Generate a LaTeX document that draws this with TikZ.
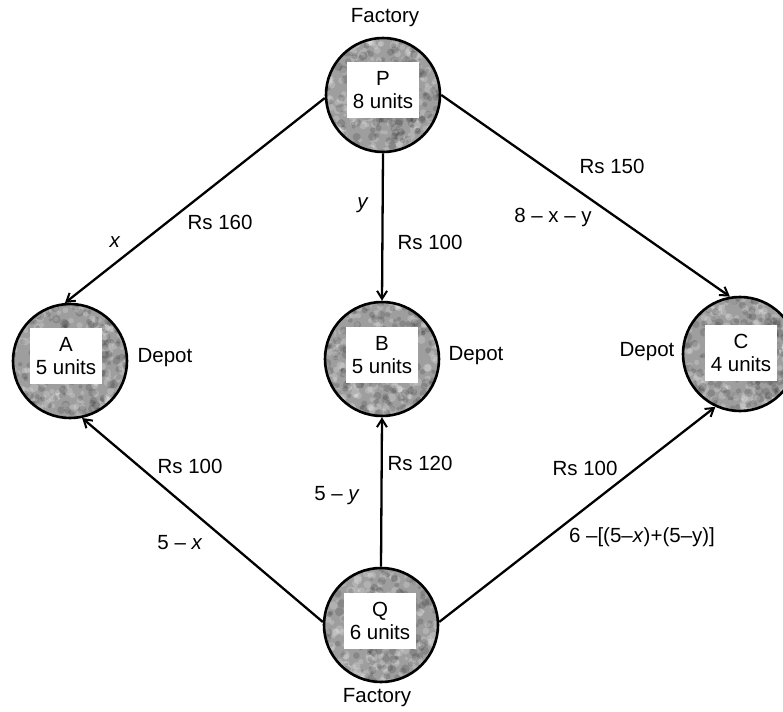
\documentclass[tikz,border=0pt]{standalone}
\usepackage{fontspec}
\setmainfont{Liberation Sans}
\usetikzlibrary{arrows.meta,calc}
\begin{document}
\begin{tikzpicture}[x=1pt,y=-1pt,
  font=\fontsize{20.5}{23.5}\selectfont,
  hub/.style={circle,minimum size=114pt,inner sep=0pt,fill=black!38},
  rim/.style={circle,minimum size=114pt,inner sep=0pt,draw,line width=2.6pt},
  lbox/.style={fill=white,minimum width=72pt,minimum height=56pt,inner sep=2pt,align=center},
  lab/.style={inner sep=0pt},
  conn/.style={line width=2.3pt,-{Straight Barb[length=8pt,width=10pt,line width=2pt]}},
]
\useasboundingbox (0,0) rectangle (783,711);
\pgfmathsetseed{11}
% filled discs
\node[hub] (Pf) at (383,95) {};
\node[hub] (Af) at (70,361) {};
\node[hub] (Bf) at (382,359) {};
\node[hub] (Cf) at (740,354) {};
\node[hub] (Qf) at (381,625) {};
% mottled texture
\foreach \n in {Pf,Af,Bf,Cf,Qf}{
  \begin{scope}
    \clip (\n.center) circle [radius=57];
    \foreach \i in {1,...,220}{
      \fill[white,opacity=.2] ($(\n.center)+({58*rand},{58*rand})$) circle [radius={1.8+2.7*rnd}];
    }
    \foreach \i in {1,...,200}{
      \fill[black,opacity=.14] ($(\n.center)+({58*rand},{58*rand})$) circle [radius={1.8+2.7*rnd}];
    }
  \end{scope}
}
% rims
\node[rim] (P) at (383,95) {};
\node[rim] (A) at (70,361) {};
\node[rim] (B) at (382,359) {};
\node[rim] (C) at (740,354) {};
\node[rim] (Q) at (381,625) {};
% text boxes
\node[lbox] (Pt) at (383,90) {P\\8 units};
\node[lbox] (At) at (66,356) {A\\5 units};
\node[lbox] (Bt) at (382,355) {B\\5 units};
\node[lbox] (Ct) at (741,353) {C\\4 units};
\node[lbox] (Qt) at (380,621) {Q\\6 units};
% connectors
\draw[conn] (P.183) -- (A.95);
\draw[conn] (P.south) -- (B.north);
\draw[conn] (P.east) -- (C.100);
\draw[conn] (Q.177) -- (A.282);
\draw[conn] (Q.north) -- (B.south);
\draw[conn] (Q.3) -- (C.245);
% labels
\node[lab] (fp) at (385,18) {Factory};
\node[lab] (fq) at (377,698) {Factory};
\node[lab] (dA) at (165,358) {Depot};
\node[lab] (dB) at (476,356) {Depot};
\node[lab] (dC) at (647,352) {Depot};
\node[lab] (lx) at (115,242) {\textit{x}};
\node[lab] (l160) at (220,222) {Rs 160};
\node[lab] (ly) at (363,205) {\textit{y}};
\node[lab] (l100a) at (430,242) {Rs 100};
\node[lab] (l150) at (612,166) {Rs 150};
\node[lab] (l8xy) at (553,217) {8 – x – y};
\node[lab] (l100b) at (190,466) {Rs 100};
\node[lab] (l5x) at (180,543) {5 – \textit{x}};
\node[lab] (l120) at (420,463) {Rs 120};
\node[lab] (l5y) at (337,496) {5 – \textit{y}};
\node[lab] (l100c) at (585,468) {Rs 100};
\node[lab] (l6) at (642,537) {6 –[(5–\textit{x})+(5–y)]};
\end{tikzpicture}
\end{document}
